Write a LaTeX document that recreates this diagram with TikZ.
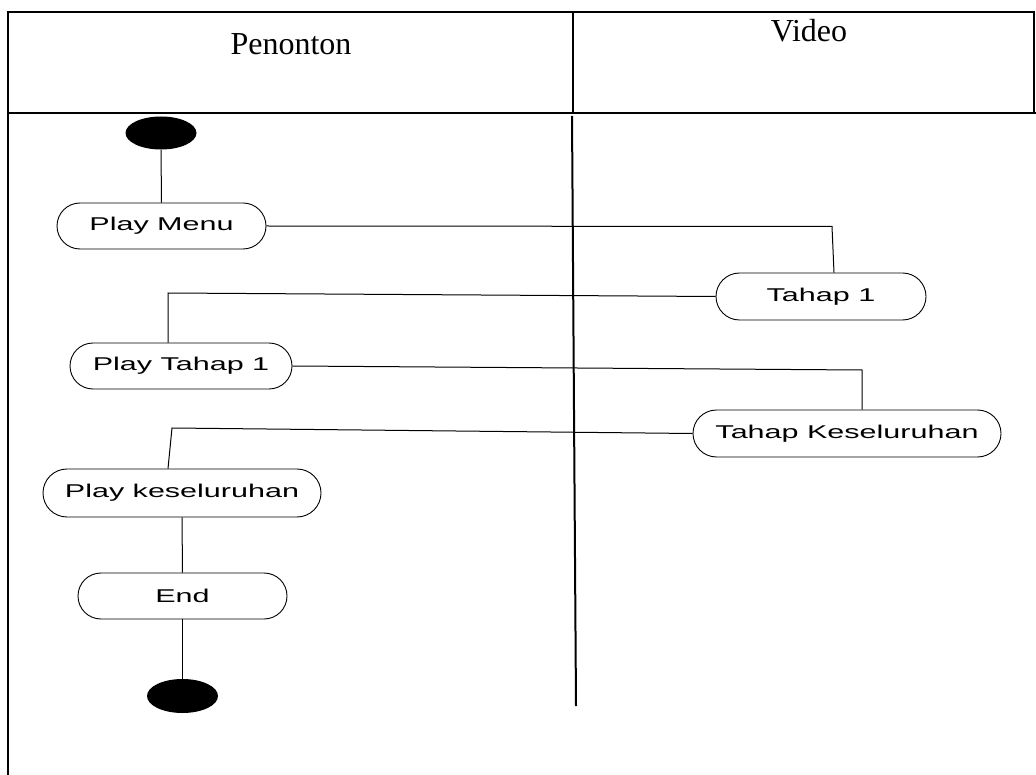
\documentclass[tikz,border=0pt]{standalone}
\usepackage{fontspec}
\setmainfont{Liberation Serif}
\newfontfamily\actfont{Liberation Sans}[FakeStretch=1.65]
\usetikzlibrary{shapes.misc,shapes.geometric}
\begin{document}
\begin{tikzpicture}[x=1pt,y=-1pt,
  act/.style={rounded rectangle, draw, line width=0.9pt, minimum height=46pt, inner sep=0pt,
    font=\actfont\fontsize{18.5}{20}\selectfont},
  dot/.style={ellipse, fill=black, minimum width=71pt, minimum height=33pt, inner sep=0pt},
  conn/.style={line width=1pt},
  border/.style={line width=2.4pt},
  lane/.style={line width=2pt},
  head/.style={font=\fontsize{32}{36}\selectfont, anchor=base, inner sep=0pt}]
\useasboundingbox (0,0) rectangle (1036,775);
% table
\draw[border] (8,775) -- (8,12) -- (1034,12) -- (1034,113);
\draw[border] (8,113) -- (1036,113);
\draw[border] (573,12) -- (573,113);
\coordinate (laneTop) at (572,116);
\coordinate (laneBot) at (576,706);
\draw[lane] (laneTop) -- (laneBot);
\node[head] (hp) at (291,55) {Penonton};
\node[head] (hv) at (809,42) {Video};
% nodes
\node[dot] (start) at (161,133) {};
\node[act, minimum width=209pt] (pm) at (161.5,226) {Play Menu};
\node[act, minimum width=210pt, minimum height=47pt] (t1) at (821,296.5) {Tahap 1};
\node[act, minimum width=222pt] (pt1) at (181,366) {Play Tahap 1};
\node[act, minimum width=308pt, minimum height=47pt] (tk) at (847,433.5) {Tahap Keseluruhan};
\node[act, minimum width=278pt, minimum height=48pt] (pk) at (182,493) {Play keseluruhan};
\node[act, minimum width=209pt] (end) at (182.5,596) {End};
\node[dot, minimum height=34pt] (stop) at (182.5,696) {};
% connectors
\coordinate (b1) at (832,226.5);
\coordinate (b2) at (168,293);
\coordinate (b3) at (862,370);
\coordinate (b4) at (172,428);
\draw[conn] (start.south) -- (pm.north);
\draw[conn] (pm.east) -- (b1) -- ([xshift=13pt]t1.north);
\draw[conn] (t1.west) -- (b2) -- ([xshift=-13pt]pt1.north);
\draw[conn] (pt1.east) -- (b3) -- ([xshift=15pt]tk.north);
\draw[conn] (tk.west) -- (b4) -- ([xshift=-14pt]pk.north);
\draw[conn] (pk.south) -- (end.north);
\draw[conn] (end.south) -- (stop.north);
\end{tikzpicture}
\end{document}
